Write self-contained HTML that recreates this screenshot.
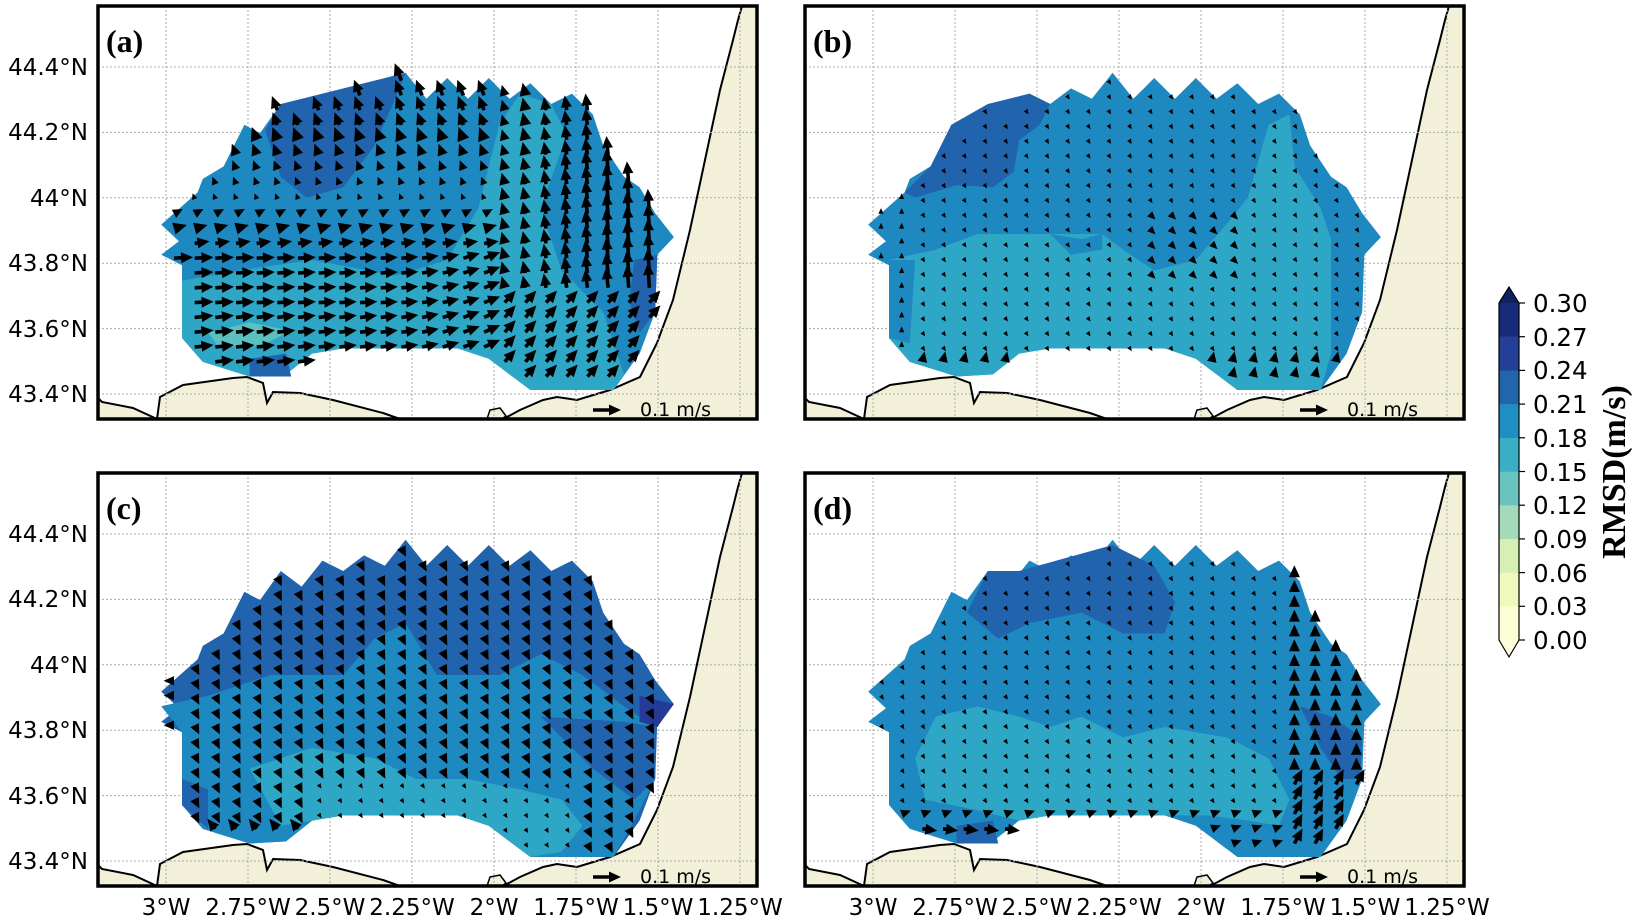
<!DOCTYPE html>
<html><head><meta charset="utf-8"><style>
html,body{margin:0;padding:0;background:#fff;}
svg{display:block;}
.lat{font-family:"DejaVu Sans",sans-serif;font-size:23px;text-anchor:end;}
.lon{font-family:"DejaVu Sans",sans-serif;font-size:23px;text-anchor:middle;}
.pl{font-family:"Liberation Serif",serif;font-size:32px;font-weight:bold;}
.ref{font-family:"DejaVu Sans",sans-serif;font-size:19px;}
.cb{font-family:"DejaVu Sans",sans-serif;font-size:24.5px;}
</style></head><body>
<svg id="s" width="1632" height="920" viewBox="0 0 1632 920" xmlns="http://www.w3.org/2000/svg">
<defs><clipPath id="cp"><rect x="98" y="6" width="659" height="413"/></clipPath></defs>
<g id="pa" transform="translate(0,0)"></g>
<g id="pb" transform="translate(707,0)"></g>
<g id="pc" transform="translate(0,467)"></g>
<g id="pd" transform="translate(707,467)"></g>
<g id="txt">
<text class="pl" x="106" y="52">(a)</text>
<text class="pl" x="813" y="52">(b)</text>
<text class="pl" x="106" y="519">(c)</text>
<text class="pl" x="813" y="519">(d)</text>
<g>
<text class="ref" x="640" y="416">0.1 m/s</text><text class="ref" x="1347" y="416">0.1 m/s</text>
<text class="ref" x="640" y="883">0.1 m/s</text><text class="ref" x="1347" y="883">0.1 m/s</text>
</g>
<g>
<text class="lat" x="88" y="75">44.4°N</text><text class="lat" x="88" y="140">44.2°N</text><text class="lat" x="88" y="206">44°N</text><text class="lat" x="88" y="271">43.8°N</text><text class="lat" x="88" y="337">43.6°N</text><text class="lat" x="88" y="402">43.4°N</text>
<text class="lat" x="88" y="542">44.4°N</text><text class="lat" x="88" y="607">44.2°N</text><text class="lat" x="88" y="673">44°N</text><text class="lat" x="88" y="738">43.8°N</text><text class="lat" x="88" y="804">43.6°N</text><text class="lat" x="88" y="869">43.4°N</text>
</g>
<g>
<text class="lon" x="166" y="915">3°W</text><text class="lon" x="248" y="915">2.75°W</text><text class="lon" x="330" y="915">2.5°W</text><text class="lon" x="412" y="915">2.25°W</text><text class="lon" x="494" y="915">2°W</text><text class="lon" x="576" y="915">1.75°W</text><text class="lon" x="658" y="915">1.5°W</text><text class="lon" x="740" y="915">1.25°W</text>
<text class="lon" x="873" y="915">3°W</text><text class="lon" x="955" y="915">2.75°W</text><text class="lon" x="1037" y="915">2.5°W</text><text class="lon" x="1119" y="915">2.25°W</text><text class="lon" x="1201" y="915">2°W</text><text class="lon" x="1283" y="915">1.75°W</text><text class="lon" x="1365" y="915">1.5°W</text><text class="lon" x="1447" y="915">1.25°W</text>
</g>
<g>
<text class="cb" x="1533" y="312">0.30</text><text class="cb" x="1533" y="346">0.27</text><text class="cb" x="1533" y="379">0.24</text><text class="cb" x="1533" y="413">0.21</text><text class="cb" x="1533" y="447">0.18</text><text class="cb" x="1533" y="481">0.15</text><text class="cb" x="1533" y="514">0.12</text><text class="cb" x="1533" y="548">0.09</text><text class="cb" x="1533" y="582">0.06</text><text class="cb" x="1533" y="615">0.03</text><text class="cb" x="1533" y="649">0.00</text>
</g>
<text transform="translate(1625,472) rotate(-90)" text-anchor="middle" font-family="Liberation Serif, serif" font-weight="bold" font-size="34">RMSD(m/s)</text>
</g>
</svg>
<script>
(function(){
var NS="http://www.w3.org/2000/svg";
function el(p,t,a){var e=document.createElementNS(NS,t);for(var k in a)e.setAttribute(k,a[k]);p.appendChild(e);return e;}
var S=1.04;
function pts(a){return a.map(function(p){return (p[0]*S).toFixed(1)+","+(p[1]*S).toFixed(1);}).join(" ");}
var OUT=[[155,216],[190,185],[195,172],[215,160],[235,120],[250,128],[270,100],[290,115],[310,90],[330,100],[350,85],[370,95],[390,70],[410,95],[430,75],[450,95],[470,75],[490,95],[510,80],[530,100],[550,90],[570,110],[580,140],[600,170],[615,180],[630,205],[648,228],[632,245],[630,300],[615,340],[590,375],[510,375],[470,345],[440,335],[330,335],[300,340],[275,360],[240,362],[195,348],[175,325],[175,255],[155,245],[172,232]];
var DARK="#2263ad",MID="#1e88c0",LIGHT="#2ea6c6",VD="#253a96",TEAL="#5cbfc0";
var REG={
a:[[DARK,[[255,125],[270,100],[310,90],[390,70],[380,95],[360,140],[330,180],[295,190],[270,170]]],
   [LIGHT,[[175,270],[230,260],[300,250],[380,265],[430,250],[460,200],[480,120],[500,90],[530,100],[545,130],[520,200],[540,260],[580,300],[600,360],[590,375],[510,375],[470,345],[440,335],[330,335],[300,340],[275,360],[240,362],[195,348],[175,325]]],
   [DARK,[[610,250],[632,245],[630,300],[615,320],[605,290]]],
   [TEAL,[[200,320],[240,310],[280,318],[250,333],[210,333]]],
   [DARK,[[240,345],[275,340],[280,362],[240,362]]]],
b:[[DARK,[[190,185],[215,160],[235,120],[270,100],[310,90],[330,100],[320,120],[300,135],[295,165],[275,180],[240,178],[200,190]]],
   [LIGHT,[[175,250],[220,240],[260,225],[330,225],[380,225],[400,240],[430,260],[470,250],[500,215],[520,190],[540,120],[560,110],[565,160],[590,200],[600,230],[600,270],[600,340],[590,375],[510,375],[470,345],[440,335],[330,335],[300,340],[275,360],[240,362],[195,348],[175,325]]],
   [MID,[[175,250],[200,250],[195,330],[175,325]]],
   [MID,[[330,225],[360,230],[380,225],[380,240],[350,245]]]],
c:[[MID,[[155,230],[200,220],[260,200],[330,200],[360,165],[390,150],[420,200],[480,200],[520,180],[560,200],[600,230],[630,250],[630,300],[610,340],[590,375],[510,375],[470,345],[440,335],[330,335],[300,340],[275,360],[240,362],[195,348],[175,325],[175,255]]],
   [LIGHT,[[240,290],[300,270],[360,280],[400,300],[450,300],[500,310],[540,320],[560,345],[540,370],[510,375],[470,345],[440,335],[330,335],[300,340],[270,345]]],
   [DARK,[[520,240],[600,245],[630,250],[630,300],[610,320],[570,290]]],
   [VD,[[615,220],[648,228],[632,250],[615,245]]],
   [DARK,[[175,300],[200,310],[200,348],[175,325]]]],
d:[[DARK,[[250,140],[270,100],[300,100],[390,75],[430,95],[450,130],[440,160],[400,160],[360,140],[310,150],[280,165]]],
   [DARK,[[570,230],[600,240],[630,260],[628,300],[610,300],[590,270]]],
   [LIGHT,[[200,280],[220,240],[260,230],[300,240],[330,250],[360,240],[400,260],[440,250],[500,260],[540,280],[560,320],[550,345],[520,340],[480,335],[440,335],[330,335],[300,340],[260,330],[210,320]]],
   [DARK,[[240,345],[275,340],[280,362],[240,362]]]]
};
function field(p,x,y){
 if(p=="a"){
  if(x<470){
   if(y>235){var u=19-(x-175)*0.01,v=(y>300?-2:-1)-(x>380?(x-380)*0.06:0);if(y>350&&x>250&&x<290){u=3;v=-18;}return [u,v];}
   if(y>195){var t=(y-195)/40;return [5+10*t,-5+3*t];}
   var k=0.35+(195-y)/120;return [-5*k,-13*k];
  } else {
   if(y>290) return [11,-12];
   var m=0.5+Math.abs(x-470)/160; if(y<160) m*=0.9;
   return [-2*m+(x-560)*0.02,-17*m];
  }
 }
 if(p=="b"){
  if(y>335) return [2,-9];
  if(x>410&&x<520&&y>200&&y<275) return [5,5];
  if(x<190) return [0,-5];
  return [1,1.5];
 }
 if(p=="c"){
  if(y>335&&x<330) return [-8,-10];
  if(y>300&&x>300&&x<560) return [2,3];
  if(x<180) return [-9,0];
  return [4,8];
 }
 if(p=="d"){
  if(y>340&&x<480) return [15,2];
  if(x>560){ if(y>300) return [8,-15]; return [0,-12];}
  if(y>320) return [8,-3];
  return [1,1.5];
 }
}
function inPoly(x,y,poly){var c=false;for(var i=0,j=poly.length-1;i<poly.length;j=i++){var xi=poly[i][0]*S,yi=poly[i][1]*S,xj=poly[j][0]*S,yj=poly[j][1]*S;if(((yi>y)!=(yj>y))&&(x<(xj-xi)*(y-yi)/(yj-yi)+xi))c=!c;}return c;}
function poly(g,P){el(g,"polygon",{points:P.map(function(q){return q[0].toFixed(1)+","+q[1].toFixed(1);}).join(" "),fill:"#000"});}
function arrow(g,x,y,u,v){
 var L=Math.hypot(u,v);var dx,dy;
 if(L<0.01){dx=1;dy=0;}else{dx=u/L;dy=v/L;}
 var nx=-dy,ny=dx,w=3.6,hw=11,hl=12;
 if(L<hl){
  var LL=Math.max(L*1.15,5),hw2=Math.max(4,hw*LL/hl);
  poly(g,[[x+nx*hw2/2,y+ny*hw2/2],[x+dx*LL,y+dy*LL],[x-nx*hw2/2,y-ny*hw2/2]]);
  return;
 }
 var b=L-hl;
 poly(g,[[x+nx*w/2,y+ny*w/2],[x+dx*b+nx*w/2,y+dy*b+ny*w/2],[x+dx*b+nx*hw/2,y+dy*b+ny*hw/2],[x+dx*L,y+dy*L],[x+dx*b-nx*hw/2,y+dy*b-ny*hw/2],[x+dx*b-nx*w/2,y+dy*b-ny*w/2],[x-nx*w/2,y-ny*w/2]]);
}
var LAND="#f3f0da";
["a","b","c","d"].forEach(function(p){
 var g=document.getElementById("p"+p);
 el(g,"rect",{x:98,y:6,width:659,height:413,fill:"#fff"});
 var c=el(g,"g",{"clip-path":"url(#cp)"});
 el(c,"polygon",{points:"742,6 757,6 757,419 500,419 507,417 520,410 543,400 557,397 577,400 610,390 640,377 657,343 673,300 690,230 705,160 720,90 733,40 738,20",fill:LAND,stroke:"#000","stroke-width":2});
 el(c,"polygon",{points:"157,419 160,397 183,385 233,378 247,377 263,383 267,403 273,392 300,393 333,400 383,413 400,419",fill:LAND,stroke:"#000","stroke-width":2});
 el(c,"polygon",{points:"98,398 102,402 133,408 157,419 98,419",fill:LAND,stroke:"#000","stroke-width":2});
 el(c,"polygon",{points:"487,419 490,410 500,408 506,416 502,419",fill:LAND,stroke:"#000","stroke-width":1.5});
 for(var i=0;i<8;i++){var x=166+82*i;el(c,"line",{x1:x,y1:6,x2:x,y2:419,stroke:"#aaa","stroke-width":1,"stroke-dasharray":"2,2"});}
 for(var j=0;j<6;j++){var y=67+65.4*j;el(c,"line",{x1:98,y1:y,x2:757,y2:y,stroke:"#aaa","stroke-width":1,"stroke-dasharray":"2,2"});}
 el(c,"polygon",{points:pts(OUT),fill:(p=="c"?DARK:MID)});
 REG[p].forEach(function(r){el(c,"polygon",{points:pts(r[1]),fill:r[0]});});
 var ag=el(c,"g",{});
 for(var k=-5;k<30;k++){for(var m=-6;m<22;m++){
  var x=236+20.67*k,y=125+14.8*m;
  if(!inPoly(x,y,OUT)) continue;
  var f=field(p,x/S,y/S);arrow(ag,x,y,f[0],f[1]);
 }}
 arrow(c,593,410,28,0);
 el(g,"rect",{x:98,y:6,width:659,height:413,fill:"none",stroke:"#000","stroke-width":3.5});
});
var s=document.getElementById("s");
var cols=["#fdfed5","#f0f9bd","#d6efb3","#a4dab7","#69c3bf","#3aaec5","#1e8fc0","#2166ad","#233f98","#182a7a"];
var cg=el(s,"g",{});
for(var i=0;i<10;i++){var y0=640-33.7*(i+1);el(cg,"rect",{x:1499,y:y0,width:20,height:33.9,fill:cols[i]});}
el(cg,"polygon",{points:"1499,303 1509,287 1519,303",fill:"#0d2260"});
el(cg,"polygon",{points:"1499,640 1509,657 1519,640",fill:"#feffda"});
el(cg,"polygon",{points:"1499,303 1509,287 1519,303 1519,640 1509,657 1499,640",fill:"none",stroke:"#000","stroke-width":1.2});
for(var i=0;i<=10;i++){var y=640-33.7*i;el(cg,"line",{x1:1519,y1:y,x2:1525,y2:y,stroke:"#000","stroke-width":1.2});}
})();
</script>
</body></html>
